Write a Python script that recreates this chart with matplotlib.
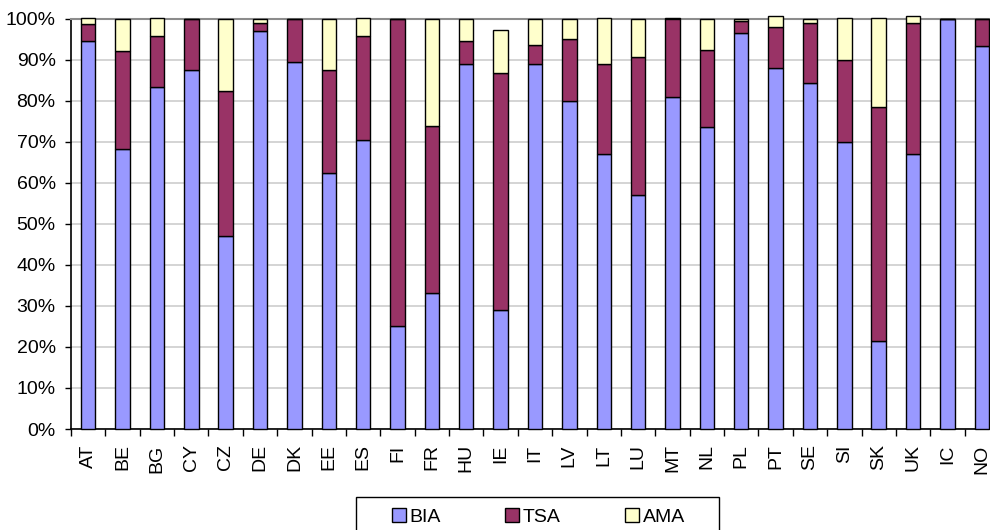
import numpy as np
import matplotlib.pyplot as plt
from matplotlib.patches import Rectangle
from matplotlib.ticker import PercentFormatter, FixedLocator

# Shares per country (percent of total)
countries = ['AT', 'BE', 'BG', 'CY', 'CZ', 'DE', 'DK', 'EE', 'ES', 'FI', 'FR', 'HU', 'IE',
             'IT', 'LV', 'LT', 'LU', 'MT', 'NL', 'PL', 'PT', 'SE', 'SI', 'SK', 'UK', 'IC', 'NO']
bia = [94.6, 68.3, 83.2, 87.5, 47.0, 96.9, 89.5, 62.4, 70.3, 25.0, 33.2, 88.9, 28.9,
       89.0, 80.0, 67.0, 57.0, 80.9, 73.6, 96.5, 87.9, 84.2, 69.8, 21.4, 67.0, 100.0, 93.2]
tsa = [4.1, 23.7, 12.5, 12.5, 35.3, 2.0, 10.5, 25.0, 25.4, 75.0, 40.7, 5.5, 57.9,
       4.6, 14.9, 21.9, 33.6, 19.1, 18.7, 3.0, 10.0, 14.8, 20.1, 57.0, 31.8, 0.0, 6.8]
ama = [1.3, 8.0, 4.3, 0.0, 17.7, 1.1, 0.0, 12.6, 4.3, 0.0, 26.1, 5.6, 10.5,
       6.4, 5.1, 11.1, 9.4, 0.0, 7.7, 0.5, 2.8, 1.0, 10.1, 21.6, 1.9, 0.0, 0.0]

labels = ['BIA', 'TSA', 'AMA']
colors = ['#9999FF', '#993366', '#FFFFCC']

plt.rcParams['font.family'] = ['Liberation Sans', 'DejaVu Sans']
fs = 14

W, H = 990, 530
fig = plt.figure(figsize=(W / 100, H / 100), dpi=100)
ax = fig.add_axes([71 / W, 101 / H, 928 / W, 410.5 / H])

x = np.arange(len(countries))
bottom = np.zeros(len(countries))
handles = []
for vals, lab, col in zip([bia, tsa, ama], labels, colors):
    vals = np.array(vals) / 100
    bars = ax.bar(x, vals, width=0.42, bottom=bottom, color=col, edgecolor='black',
                  linewidth=1, label=lab, clip_on=False, zorder=3)
    handles.append(bars)
    bottom += vals

ax.set_xlim(-0.5, len(countries) - 0.5)
ax.set_ylim(0, 1)
ax.yaxis.set_major_locator(FixedLocator(np.arange(0, 1.01, 0.1)))
ax.yaxis.set_major_formatter(PercentFormatter(1.0, decimals=0))
ax.yaxis.grid(True, color='#d4d4d4', linestyle='-', linewidth=1.4, zorder=0)
ax.set_axisbelow(True)

ax.set_xticks(x)
ax.set_xticklabels(countries, rotation=90, fontsize=fs)
ax.set_xticks(np.arange(-0.5, len(countries), 1), minor=True)
ax.tick_params(axis='x', which='major', length=0, pad=11)
ax.tick_params(axis='x', which='minor', length=5, width=1, direction='out', color='black')
ax.tick_params(axis='y', length=4, width=1, direction='out', labelsize=fs, pad=7)

ax.spines['right'].set_visible(False)
ax.spines['top'].set_color('#8c8c8c')
ax.spines['top'].set_linewidth(1.5)
ax.spines['left'].set_linewidth(1.2)
ax.spines['bottom'].set_linewidth(1.2)

# legend box (bottom edge runs past the figure, as in the source)
fig.patches.append(Rectangle((356 / W, 1 - 545 / H), 363 / W, 48 / H,
                             transform=fig.transFigure, facecolor='white',
                             edgecolor='black', linewidth=1))
fig.legend(handles=handles, labels=labels, loc='center', ncol=3,
           bbox_to_anchor=(538.5 / W, 1 - 517 / H), frameon=False, fontsize=fs,
           handlelength=0.72, handleheight=0.7, handletextpad=0.2,
           columnspacing=3.3, borderpad=0, borderaxespad=0)

fig.savefig('out.png', dpi=100)
